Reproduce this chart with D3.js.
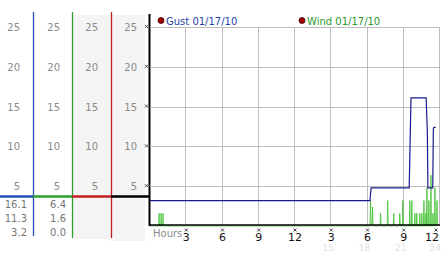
<!DOCTYPE html>
<html>
<head>
<meta charset="utf-8">
<script src="https://cdn.jsdelivr.net/npm/d3@7"></script>
<style>
  body { margin: 0; background: #fff; }
  text { font-family: "DejaVu Sans", Verdana, sans-serif; }
</style>
</head>
<body>
<script>
// tick values and labels
var yTicks = [5, 10, 15, 20, 25];
var hourTicks = [3, 6, 9, 12, 15, 18, 21, 24];
var hourLabels = ["3", "6", "9", "12", "3", "6", "9", "12"];
var hourFaint = [15, 18, 21, 24];

// stats under the left columns (max / last / min)
var gustStats = ["16.1", "11.3", "3.2"];
var windStats = ["6.4", "1.6", "0.0"];

// gust, [hour, mph]
var gust = [
  [0, 3.2], [18.2, 3.2], [18.3, 4.8], [21.45, 4.8], [21.6, 16.1],
  [22.85, 16.1], [22.95, 12.0], [23.0, 4.8], [23.4, 4.8], [23.45, 12.2],
  [23.5, 12.4], [23.65, 12.4]
];

// wind, [hour, mph]
var wind = [
  [0, 0], [0.72, 0], [0.75, 1.6], [0.78, 0], [0.89, 0], [0.92, 1.6], [0.95, 0],
  [1.05, 0], [1.08, 1.6], [1.11, 0],
  [18.2, 0], [18.25, 3.2], [18.3, 0], [18.38, 0], [18.42, 2.4], [18.46, 0],
  [19.04, 0], [19.08, 1.6], [19.12, 0],
  [19.63, 0], [19.67, 3.2], [19.71, 0],
  [20.13, 0], [20.17, 1.6], [20.21, 0],
  [20.63, 0], [20.67, 1.6], [20.71, 0], [20.88, 0], [20.92, 3.2], [20.96, 0],
  [21.46, 0], [21.5, 3.2], [21.54, 0], [21.63, 0], [21.67, 3.2], [21.71, 0],
  [21.88, 0], [21.92, 1.6], [21.96, 0], [22.04, 0], [22.08, 1.6], [22.12, 0],
  [22.29, 0], [22.33, 1.6], [22.37, 0], [22.46, 0], [22.5, 1.6], [22.54, 0],
  [22.63, 0], [22.67, 3.2], [22.71, 0], [22.79, 0], [22.83, 1.6], [22.87, 0],
  [22.88, 0], [22.92, 4.8], [22.96, 0], [23.04, 0], [23.08, 3.2], [23.12, 0],
  [23.21, 0], [23.25, 6.4], [23.29, 0], [23.38, 0], [23.42, 1.6], [23.46, 0],
  [23.54, 0], [23.58, 4.8], [23.62, 0], [23.71, 0], [23.75, 3.2], [23.8, 0]
];

var W = 442, H = 253;

var svg = d3.select("body")
  .append("svg")
  .attr("width", W)
  .attr("height", H);

var x = d3.scaleLinear().domain([0, 24]).range([150, 440]);
var y = d3.scaleLinear().domain([0, 25]).range([226, 27]);

/*
  left panel: four scale columns
*/
svg.append("rect").attr("x", 72).attr("y", 15).attr("width", 39).attr("height", 224).attr("fill", "#f4f4f4");
svg.append("rect").attr("x", 111).attr("y", 15).attr("width", 34).attr("height", 226).attr("fill", "#f4f4f4");

var cols = [
  { right: 20, color: "#1f4fb8", line: 33.5, y2: 236, from: 0 },
  { right: 60, color: "#2ea02e", line: 72.5, y2: 238, from: 33 },
  { right: 98, color: "#c02020", line: 111.5, y2: 238, from: 72 },
  { right: 137, color: "#000", line: 149.5, y2: 226, from: 111 }
];

cols.forEach(function (c, i) {
  // vertical rule
  svg.append("line")
    .attr("x1", c.line).attr("x2", c.line)
    .attr("y1", i == 3 ? 14 : 12).attr("y2", c.y2)
    .attr("stroke", c.color)
    .attr("stroke-width", i == 3 ? 2 : 1.3);

  // horizontal separator
  svg.append("line")
    .attr("x1", c.from).attr("x2", i == 3 ? 150 : c.line)
    .attr("y1", 196.5).attr("y2", 196.5)
    .attr("stroke", c.color)
    .attr("stroke-width", 2.5);

  svg.selectAll(null)
    .data(yTicks)
    .enter()
    .append("text")
    .attr("x", c.right)
    .attr("y", function (d) { return y(d) + 4; })
    .attr("text-anchor", "end")
    .style("font-size", "10px")
    .style("fill", "#8a8a8a")
    .text(function (d) { return d; });
});

svg.selectAll(null)
  .data(gustStats)
  .enter()
  .append("text")
  .attr("x", 27)
  .attr("y", function (d, i) { return 208 + i * 14; })
  .attr("text-anchor", "end")
  .style("font-size", "10px")
  .style("fill", "#777")
  .text(function (d) { return d; });

svg.selectAll(null)
  .data(windStats)
  .enter()
  .append("text")
  .attr("x", 66)
  .attr("y", function (d, i) { return 208 + i * 14; })
  .attr("text-anchor", "end")
  .style("font-size", "10px")
  .style("fill", "#777")
  .text(function (d) { return d; });

/*
  main chart grid
*/
svg.selectAll(null)
  .data(yTicks)
  .enter()
  .append("line")
  .attr("x1", 150).attr("x2", 440)
  .attr("y1", function (d) { return Math.round(y(d)) + 0.5; })
  .attr("y2", function (d) { return Math.round(y(d)) + 0.5; })
  .attr("stroke", "#bdbdbd");

svg.selectAll(null)
  .data(hourTicks)
  .enter()
  .append("line")
  .attr("x1", function (d) { return Math.round(x(d)) - 0.5; })
  .attr("x2", function (d) { return Math.round(x(d)) - 0.5; })
  .attr("y1", y(25)).attr("y2", 226)
  .attr("stroke", "#bdbdbd");

// tiny tick markers
function marker(cx, cy) {
  svg.append("path")
    .attr("d", "M" + (cx - 1.5) + "," + (cy - 1.5) + "l3,3M" + (cx + 1.5) + "," + (cy - 1.5) + "l-3,3")
    .attr("stroke", "#333")
    .attr("stroke-width", 0.9);
}
yTicks.forEach(function (d) { marker(146.5, y(d) - 0.5); });
hourTicks.forEach(function (d) { marker(Math.min(x(d), 436), 230); });

// legend
svg.append("circle").attr("cx", 161).attr("cy", 20.5).attr("r", 3).attr("fill", "#a00000").attr("stroke", "#400").attr("stroke-width", 0.8);
svg.append("text").attr("x", 166).attr("y", 24.5).style("font-size", "10px").style("fill", "#1f3fa8").text("Gust 01/17/10");
svg.append("circle").attr("cx", 302).attr("cy", 20.5).attr("r", 3).attr("fill", "#a00000").attr("stroke", "#400").attr("stroke-width", 0.8);
svg.append("text").attr("x", 307).attr("y", 24.5).style("font-size", "10px").style("fill", "#2a9a2a").text("Wind 01/17/10");

/*
  series
*/
var line = d3.line()
  .x(function (d) { return x(d[0]); })
  .y(function (d) { return y(d[1]); });

svg.append("path")
  .datum(wind)
  .attr("d", line)
  .attr("fill", "none")
  .attr("stroke", "#3cbf2c")
  .attr("stroke-width", 0.8);

// x axis
svg.append("line")
  .attr("x1", 149).attr("x2", 440)
  .attr("y1", 225).attr("y2", 225)
  .attr("stroke", "#000")
  .attr("stroke-width", 1.5);

svg.append("path")
  .datum(gust)
  .attr("d", line)
  .attr("fill", "none")
  .attr("stroke", "#1a1a8c")
  .attr("stroke-width", 1.2);

svg.append("text")
  .attr("x", 153).attr("y", 237)
  .style("font-size", "10px")
  .style("fill", "#8a8a8a")
  .text("Hours");

// faint 24h labels sit under the 12h ones
svg.selectAll(null)
  .data(hourFaint)
  .enter()
  .append("text")
  .attr("x", function (d) { return d == 24 ? 441 : x(d) - 3; })
  .attr("y", 251)
  .attr("text-anchor", function (d) { return d == 24 ? "end" : "middle"; })
  .style("font-size", "9px")
  .style("fill", "#e2e2e2")
  .text(function (d) { return d; });

svg.selectAll(null)
  .data(hourTicks)
  .enter()
  .append("text")
  .attr("x", function (d) { return d == 24 ? 439 : x(d); })
  .attr("y", 241)
  .attr("text-anchor", function (d) { return d == 24 ? "end" : "middle"; })
  .style("font-size", "11px")
  .style("fill", "#111")
  .text(function (d, i) { return hourLabels[i]; });
</script>
</body>
</html>
